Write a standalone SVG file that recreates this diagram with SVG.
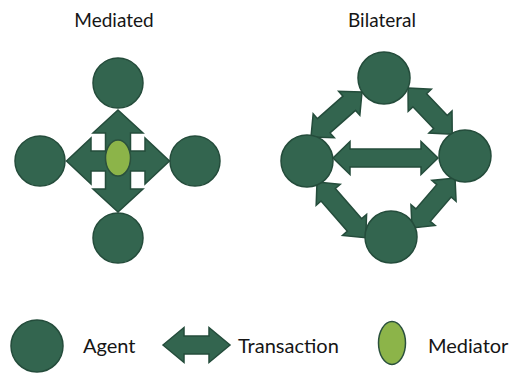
<svg xmlns="http://www.w3.org/2000/svg" width="509" height="374" viewBox="0 0 509 374">
  <style>
    .agent { fill: #33654f; stroke: #244c3b; stroke-width: 1.5; }
    .arrow { fill: #33654f; stroke: #244c3b; stroke-width: 1.5; stroke-linejoin: miter; }
    .mediator { fill: #8cb449; stroke: #2a503d; stroke-width: 1.5; }
    .label { font-family: Lato, "Liberation Sans", sans-serif; font-size: 20px; fill: #151515; }
    .title { font-family: Lato, "Liberation Sans", sans-serif; font-size: 19px; fill: #151515; }
  </style>
  <rect width="509" height="374" fill="#ffffff"/>

  <!-- Titles -->
  <text class="title" x="114" y="27" text-anchor="middle">Mediated</text>
  <text class="title" x="382" y="27" text-anchor="middle">Bilateral</text>

  <!-- Connectors -->
  <g id="connectors">
    <!-- Mediated: crossing pair of double arrows through the mediator -->
    <path class="arrow" d="M118,110 L143,133 L130.5,133 L130.5,151 L145,151 L145,138 L169.5,161 L145,184 L145,171 L130.5,171 L130.5,189 L143,189 L118,212 L93,189 L105.5,189 L105.5,171 L91,171 L91,184 L66.5,161 L91,138 L91,151 L105.5,151 L105.5,133 L93,133 Z"/>

    <!-- Bilateral: double arrows between every adjacent pair -->
    <path class="arrow" transform="translate(333,158)" d="M0,0 L17,-16.5 L17,-9 L88,-9 L88,-16.5 L105,0 L88,16.5 L88,9 L17,9 L17,16.5 Z"/>
    <path class="arrow" transform="translate(311,137) rotate(-41.4)" d="M0,0 L17,-16 L17,-9.5 L51,-9.5 L51,-16 L68,0 L51,16 L51,9.5 L17,9.5 L17,16 Z"/>
    <path class="arrow" transform="translate(408,88) rotate(46.3)" d="M0,0 L17,-16 L17,-9.5 L47,-9.5 L47,-16 L64,0 L47,16 L47,9.5 L17,9.5 L17,16 Z"/>
    <path class="arrow" transform="translate(317,182) rotate(48.8)" d="M0,0 L17,-16 L17,-9.5 L57,-9.5 L57,-16 L74,0 L57,16 L57,9.5 L17,9.5 L17,16 Z"/>
    <path class="arrow" transform="translate(412,228) rotate(-49.3)" d="M0,0 L17,-16 L17,-9.5 L49,-9.5 L49,-16 L66,0 L49,16 L49,9.5 L17,9.5 L17,16 Z"/>
  </g>

  <!-- Mediated nodes -->
  <g id="med-top"><circle class="agent" cx="118" cy="83" r="25"/></g>
  <g id="med-left"><circle class="agent" cx="40" cy="161" r="25"/></g>
  <g id="med-right"><circle class="agent" cx="195" cy="161" r="25"/></g>
  <g id="med-bottom"><circle class="agent" cx="118" cy="238" r="25"/></g>
  <g id="mediator"><ellipse class="mediator" cx="118" cy="158" rx="12.5" ry="18"/></g>

  <!-- Bilateral nodes -->
  <g id="bil-top"><circle class="agent" cx="384" cy="78" r="26"/></g>
  <g id="bil-left"><circle class="agent" cx="307" cy="161" r="26"/></g>
  <g id="bil-right"><circle class="agent" cx="465" cy="156" r="26"/></g>
  <g id="bil-bottom"><circle class="agent" cx="391" cy="237" r="26"/></g>

  <!-- Legend -->
  <g id="legend-agent">
    <circle class="agent" cx="37" cy="346" r="26"/>
    <text class="label" x="83" y="353">Agent</text>
  </g>
  <g id="legend-transaction">
    <path class="arrow" transform="translate(163,345)" d="M0,0 L21,-17.5 L21,-9 L46,-9 L46,-17.5 L67,0 L46,17.5 L46,9 L21,9 L21,17.5 Z"/>
    <text class="label" x="238" y="353">Transaction</text>
  </g>
  <g id="legend-mediator">
    <ellipse class="mediator" cx="392" cy="343" rx="13.5" ry="21.5"/>
    <text class="label" x="428" y="353">Mediator</text>
  </g>
</svg>
